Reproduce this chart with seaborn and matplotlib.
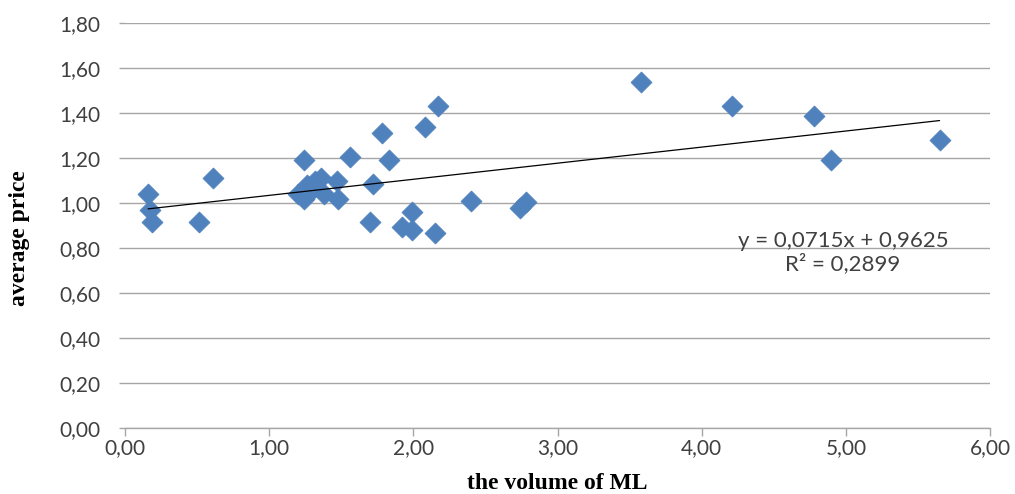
import numpy as np
import pandas as pd
import matplotlib
matplotlib.use("Agg")
import matplotlib.pyplot as plt
from matplotlib.ticker import FuncFormatter
import seaborn as sns

# volume of ML (x) and average price (y)
volume_ml = [0.16, 0.17, 0.19, 0.51, 0.61, 1.20, 1.24, 1.24, 1.26, 1.30,
             1.32, 1.36, 1.38, 1.47, 1.48, 1.56, 1.70, 1.72, 1.78, 1.83,
             1.92, 1.99, 1.99, 2.08, 2.15, 2.17, 2.40, 2.74, 2.78, 3.58,
             4.21, 4.78, 4.90, 5.65]
avg_price = [1.04, 0.97, 0.915, 0.915, 1.11, 1.04, 1.19, 1.02, 1.08, 1.06,
             1.10, 1.11, 1.04, 1.10, 1.02, 1.205, 0.915, 1.085, 1.31, 1.19,
             0.895, 0.96, 0.88, 1.34, 0.865, 1.43, 1.01, 0.98, 1.005, 1.54,
             1.43, 1.385, 1.19, 1.28]

# linear trend as printed on the chart
trend_slope = 0.0715
trend_intercept = 0.9625
trend_label = "y = 0,0715x + 0,9625\nR² = 0,2899"

x_ticks = [0, 1, 2, 3, 4, 5, 6]
y_ticks = [0.0, 0.2, 0.4, 0.6, 0.8, 1.0, 1.2, 1.4, 1.6, 1.8]

df = pd.DataFrame({"volume": volume_ml, "price": avg_price})

sns.set_theme(style="white")
plt.rcParams["font.family"] = ["Lato", "DejaVu Sans"]

grid_col = "#A6A6A6"
text_col = "#404040"

fig = plt.figure(figsize=(10.15, 4.94), dpi=100)
ax = fig.add_axes([0.1232, 0.1336, 0.8522, 0.8198])

sns.scatterplot(data=df, x="volume", y="price", ax=ax, marker="D", s=115,
                color="#4F81BD", edgecolor="#4F81BD", linewidth=0.5, zorder=3)

# trend line over the data range
xs = np.array([min(volume_ml), max(volume_ml)])
sns.lineplot(x=xs, y=trend_slope * xs + trend_intercept, ax=ax,
             color="black", linewidth=0.9, zorder=4)

ax.set_xlim(0, 6)
ax.set_ylim(0, 1.8)
ax.set_xticks(x_ticks)
ax.set_yticks(y_ticks)
fmt = FuncFormatter(lambda v, p: f"{v:.2f}".replace(".", ","))
ax.xaxis.set_major_formatter(fmt)
ax.yaxis.set_major_formatter(fmt)

ax.yaxis.grid(True, color=grid_col, linewidth=1.0)
ax.xaxis.grid(False)
ax.set_axisbelow(True)
for s in ["left", "right", "top"]:
    ax.spines[s].set_visible(False)
ax.spines["bottom"].set_color(grid_col)
ax.spines["bottom"].set_linewidth(1.0)

ax.tick_params(axis="x", direction="out", length=6, width=1, color=grid_col,
               labelsize=15, labelcolor=text_col, pad=1, bottom=True)
ax.tick_params(axis="y", direction="out", length=4, width=1, color=grid_col,
               labelsize=15, labelcolor=text_col, pad=14, left=True)

ax.text(4.98, 0.78, trend_label, ha="center", va="center", fontsize=16,
        color=text_col, linespacing=1.1)

ax.set_xlabel("the volume of ML", family=["Liberation Serif"], fontweight="bold",
              fontsize=17, color="black", labelpad=11)
ax.set_ylabel("average price", family=["Liberation Serif"], fontweight="bold",
              fontsize=17, color="black")
ax.yaxis.set_label_coords(-0.11, 0.47)

fig.savefig("out.png", dpi=100)
